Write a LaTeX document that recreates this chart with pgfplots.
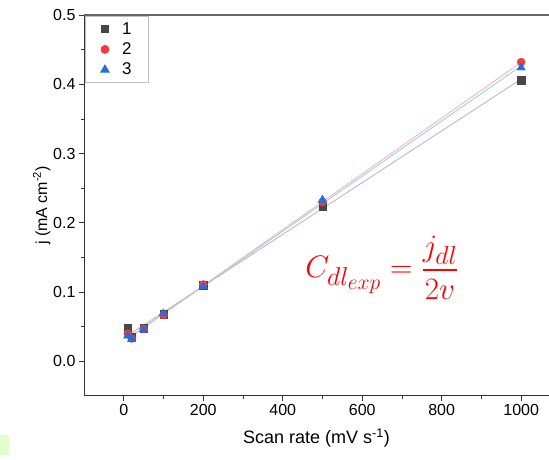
\documentclass[border=0pt]{standalone}
\usepackage{pgfplots}
\pgfplotsset{compat=1.18}
\usepackage{pgfplotstable}
\usepackage{amsmath}
\usepackage{fontspec}
\setmainfont{Liberation Sans}
\definecolor{c1}{HTML}{474747}
\definecolor{c2}{HTML}{F03C3C}
\definecolor{c3}{HTML}{1F6FE0}
\definecolor{l1}{HTML}{BBBBBB}
\definecolor{l2}{HTML}{F8B4B4}
\definecolor{l3}{HTML}{A8C8F2}
\pgfplotstableread{
x j1 j2 j3
10 0.048 0.040 0.037
20 0.035 0.033 0.032
50 0.048 0.047 0.046
100 0.068 0.067 0.069
200 0.110 0.111 0.108
500 0.224 0.230 0.233
1000 0.406 0.432 0.424
}\data
\begin{document}
\begin{tikzpicture}
\fill[white] (0,0) rectangle (549pt,460pt);
\fill[green!60!yellow!20] (0pt,5pt) rectangle (9pt,25pt);
\begin{axis}[name=ax,
  scale only axis, width=465pt, height=381pt,
  at={(84pt,64pt)}, anchor=south west,
  xmin=-100, xmax=1070, ymin=-0.05, ymax=0.5,
  xtick={0,200,...,1000}, minor x tick num=1,
  ytick={0,0.1,...,0.5}, minor y tick num=1,
  xtick pos=left, ytick pos=left,
  tick align=outside, major tick length=5pt, minor tick length=3pt,
  every tick/.style={black!80, line width=0.8pt},
  axis line style={draw=none},
  font=\fontsize{16}{18}\selectfont,
  /pgf/number format/assume math mode=true,
  xticklabel style={/pgf/number format/.cd, set thousands separator={}},
  yticklabel style={/pgf/number format/.cd, fixed, fixed zerofill, precision=1},
  xlabel={Scan rate (mV s\textsuperscript{-1})},
  ylabel={j (mA cm\textsuperscript{-2})},
  xlabel style={font=\fontsize{18}{20}\selectfont, yshift=-6pt},
  ylabel style={font=\fontsize{16}{18}\selectfont, yshift=-4pt},
  clip=false,
  legend style={at={(rel axis cs:0.003,0.997)}, anchor=north west, draw=black!25, line width=0.8pt,
    font=\fontsize{17}{19}\selectfont, row sep=3pt, inner xsep=15pt, inner ysep=4pt,
    /tikz/every odd column/.append style={column sep=11pt}},
  legend cell align=left,
]
\addplot[l1, line width=0.9pt, forget plot] table[x=x, y={create col/linear regression={y=j1}}] {\data};
\addplot[l2, line width=0.9pt, forget plot] table[x=x, y={create col/linear regression={y=j2}}] {\data};
\addplot[l3, line width=0.9pt, forget plot] table[x=x, y={create col/linear regression={y=j3}}] {\data};
\addplot[only marks, mark=square*, mark size=3.6pt, c1, mark options={fill=c1}] table[x=x, y=j1] {\data};
\addplot[only marks, mark=*, mark size=4pt, c2, mark options={fill=c2}] table[x=x, y=j2] {\data};
\addplot[only marks, mark=triangle*, mark size=4.8pt, c3, mark options={fill=c3}] table[x=x, y=j3] {\data};
\legend{1,2,3}
\node[red, font=\fontsize{24.88}{30}\selectfont, scale=1.25] at (axis cs:650,0.135) {$C_{dl_{exp}} = \dfrac{j_{dl}}{2v}$};
\end{axis}
\draw[black!80, line width=1pt] (ax.north west) -- (ax.south west) -- (ax.south east);
\draw[black!60, line width=1.4pt] (ax.north west) -- (ax.north east);
\pgfresetboundingbox
\path (0,0) rectangle (549pt,460pt);
\end{tikzpicture}
\end{document}
